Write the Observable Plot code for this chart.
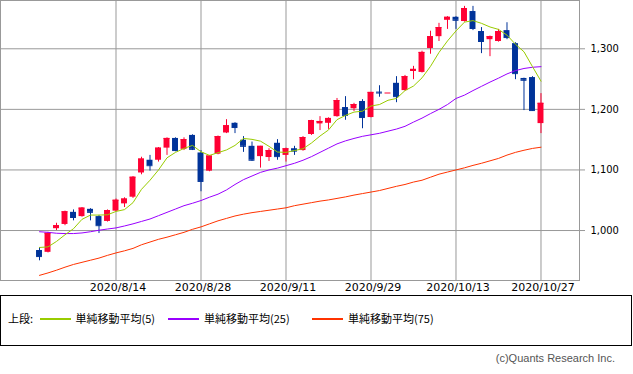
<!DOCTYPE html>
<html><head><meta charset="utf-8">
<script src="https://cdn.jsdelivr.net/npm/d3@7"></script>
<script src="https://cdn.jsdelivr.net/npm/@observablehq/plot@0.6"></script>
<style>
body{margin:0;background:#fff;}
#wrap{position:relative;width:633px;height:374px;overflow:hidden;background:#fff;}
#chart{position:absolute;left:0;top:0;}
#legend{position:absolute;left:0;top:295px;width:632px;height:51px;box-sizing:border-box;border:1px solid #000;font-family:"Noto Sans CJK JP","Noto Sans CJK SC",sans-serif;font-size:11px;color:#000;}
#legend .t{position:absolute;top:15px;line-height:14px;white-space:nowrap;}
#legend .s{position:absolute;top:22px;height:1.5px;width:31px;}
#caption{position:absolute;right:18px;top:351px;line-height:14px;font-family:"Liberation Sans",Arial,sans-serif;font-size:11px;color:#555;white-space:nowrap;}
</style></head>
<body>
<div id="wrap">
  <div id="chart"></div>
  <div id="legend"></div>
  <div id="caption">(c)Quants Research Inc.</div>
</div>
<script>
const dates = ["2020/7/31","2020/8/3","2020/8/4","2020/8/5","2020/8/6","2020/8/7","2020/8/11","2020/8/12","2020/8/13","2020/8/14",
"2020/8/17","2020/8/18","2020/8/19","2020/8/20","2020/8/21","2020/8/24","2020/8/25","2020/8/26","2020/8/27","2020/8/28",
"2020/8/31","2020/9/1","2020/9/2","2020/9/3","2020/9/4","2020/9/7","2020/9/8","2020/9/9","2020/9/10","2020/9/11",
"2020/9/14","2020/9/15","2020/9/16","2020/9/17","2020/9/18","2020/9/23","2020/9/24","2020/9/25","2020/9/28","2020/9/29",
"2020/9/30","2020/10/1","2020/10/2","2020/10/5","2020/10/6","2020/10/7","2020/10/8","2020/10/9","2020/10/12","2020/10/13",
"2020/10/14","2020/10/15","2020/10/16","2020/10/19","2020/10/20","2020/10/21","2020/10/22","2020/10/23","2020/10/26","2020/10/27"];
const open = [967,964,1003,1010,1030,1023,1035,1023,1015,1032,
1044,1055,1095,1116,1116,1136,1152,1134,1157,1128,
1098,1126,1161,1177,1149,1139,1122,1120.5,1144,1124,
1135,1132,1158.5,1176,1177,1188,1203,1201,1213,1186.5,
1228.5,1227,1243,1231,1262.5,1261,1300.5,1320,1347,1352,
1345,1361.5,1328.5,1315,1312,1330,1308.5,1251,1252.5,1176.5];
const high = [972,997,1012,1032,1034,1038,1036,1025,1034,1052,
1054,1089,1121,1124,1137,1153,1153,1153,1158,1132,
1124,1156,1183,1178,1155,1146,1139,1135,1150,1136,
1139,1155,1182,1188,1186,1218,1221,1210,1216,1228,
1239,1227,1254,1256,1271,1296,1329,1342,1353,1353,
1370,1370,1335,1321,1332,1343,1310,1251.5,1254,1226];
const low = [950,963,1000,1008,1016,1022,1016,995,1014,1031,
1038,1053,1092,1098,1113,1124,1130,1132,1132,1064,
1097,1125,1160,1160,1129,1114,1103,1114,1116,1113,
1124,1131,1157,1165,1167,1187,1182,1196.5,1168,1186,
1220,1227,1211,1230,1249,1260,1291,1312,1332,1332,
1344,1330,1292,1287,1311,1315,1249,1198,1196.5,1160];
const close = [957,995.5,1008,1031,1021.5,1037,1030,1008,1033,1050,
1052,1088,1118,1107,1136,1152,1132,1150,1134,1081,
1123,1155,1173,1170,1139,1116,1139,1132,1122,1135,
1131,1153.5,1181.5,1180,1185,1214.5,1190,1208,1186.5,1228,
1227,1227,1221,1254,1266,1294,1320,1335,1352,1347,
1366.5,1333.5,1312,1320,1328.5,1318.5,1259,1248,1198,1210];
const ma5 = [972,973,982,993,1003,1018.5,1025.5,1025.5,1026,1031.5,
1034.5,1046,1068,1083,1100,1120,1129,1135.5,1140.5,1130,
1124,1128.5,1133,1140.5,1152,1150.5,1147.5,1139,1129.5,1129,
1132,1135,1144.5,1156,1166,1183,1190,1195.5,1197,1205.5,
1208,1215,1218,1231,1238.5,1252,1271,1294,1313,1329.5,
1344,1346.5,1342,1336,1332,1322.5,1307.5,1295,1270.5,1246.5];
const ma25 = [998,997,995.5,995,995,996,998,1000.5,1002.5,1004.3,
1007.5,1011,1015,1019,1024.5,1030,1035.5,1041,1045,1049.5,
1055,1060,1067,1076,1084,1090,1096,1100,1103,1107,
1111,1116,1122,1129,1136,1143,1148,1152,1155.5,1158,
1160.5,1164,1167.5,1172,1179,1185.5,1193,1200,1208,1218,
1223.5,1231,1238,1245,1251.5,1258.5,1264,1267.5,1269.5,1270.5];
const ma75 = [926,930,934.5,939.5,944,947.5,951,954.5,959,963,
966.5,970.5,976.5,981,985.5,989,993,997,1002,1006,
1011,1016,1020,1024,1027,1029.5,1031.5,1033.5,1035.5,1037.5,
1041,1043.5,1046,1048.5,1050.5,1053,1055.5,1058.5,1061,1063.5,
1066,1069.5,1073,1076,1080,1083,1088,1093,1096.5,1100,
1103.5,1107.5,1111,1115,1119,1124.5,1129,1132.5,1135.5,1137.5];
const xTickDates = ["2020/8/14","2020/8/28","2020/9/11","2020/9/29","2020/10/13","2020/10/27"];
const yTicks = [1000,1100,1200,1300];
const legendItems = [
  {label:"単純移動平均(5)", color:"#99cc00"},
  {label:"単純移動平均(25)", color:"#9900ff"},
  {label:"単純移動平均(75)", color:"#ff3300"}
];

const data = dates.map((d,i)=>({i, date:d, open:open[i], high:high[i], low:low[i], close:close[i], ma5:ma5[i], ma25:ma25[i], ma75:ma75[i]}));
const ups = data.filter(d=>d.close>=d.open);
const downs = data.filter(d=>d.close<d.open);
const tickIdx = xTickDates.map(t=>dates.indexOf(t));
const RED = "#ff0033", BLUE = "#003399", GRID = "#999999";
const hw = 0.35;

const chart = Plot.plot({
  width:633, height:295,
  marginTop:0, marginLeft:0, marginRight:54, marginBottom:15,
  style:{fontFamily:"'DejaVu Sans', Verdana, sans-serif", fontSize:"11px", color:"#000", background:"#fff", overflow:"visible"},
  x:{domain:[-4.59,63.53]},
  y:{domain:[917.5,1379.7]},
  marks:[
    Plot.ruleX(tickIdx,{stroke:GRID}),
    Plot.ruleY(yTicks,{stroke:GRID}),
    Plot.frame({stroke:GRID}),
    Plot.ruleX(ups,{x:"i", y1:"low", y2:"high", stroke:RED}),
    Plot.ruleX(downs,{x:"i", y1:"low", y2:"high", stroke:BLUE}),
    Plot.rectY(ups,{x1:d=>d.i-hw, x2:d=>d.i+hw, y1:"open", y2:"close", fill:RED}),
    Plot.rectY(downs,{x1:d=>d.i-hw, x2:d=>d.i+hw, y1:"open", y2:"close", fill:BLUE}),
    Plot.ruleY(ups,{x1:d=>d.i-hw, x2:d=>d.i+hw, y:"close", stroke:RED}),
    Plot.ruleY(downs,{x1:d=>d.i-hw, x2:d=>d.i+hw, y:"close", stroke:BLUE}),
    Plot.lineY(data,{x:"i", y:"ma75", stroke:"#ff3300", strokeWidth:1}),
    Plot.lineY(data,{x:"i", y:"ma25", stroke:"#9900ff", strokeWidth:1}),
    Plot.lineY(data,{x:"i", y:"ma5", stroke:"#99cc00", strokeWidth:1}),
    Plot.axisX({ticks:tickIdx, tickFormat:i=>dates[i], tickSize:0, tickPadding:3, dx:2, fontSize:11, label:null}),
    Plot.axisY({anchor:"right", ticks:yTicks, tickFormat:d3.format(","), tickSize:5, tickPadding:6, stroke:GRID, fill:"#000", fontSize:11, fontFamily:"'DejaVu Sans Condensed','DejaVu Sans',sans-serif", fontStretch:"condensed", label:null})
  ]
});
document.getElementById("chart").appendChild(chart);

const lg = document.getElementById("legend");
function add(cls, left, text, color){
  const el = document.createElement("div");
  el.className = cls; el.style.left = left + "px";
  if (text) el.textContent = text;
  if (color) el.style.background = color;
  lg.appendChild(el);
}
add("t", 7, "上段:");
const swLeft = [39,167,311], txLeft = [74.5,203,347];
legendItems.forEach((it,k)=>{ add("s", swLeft[k], null, it.color); add("t", txLeft[k], it.label); });
</script>
</body></html>
